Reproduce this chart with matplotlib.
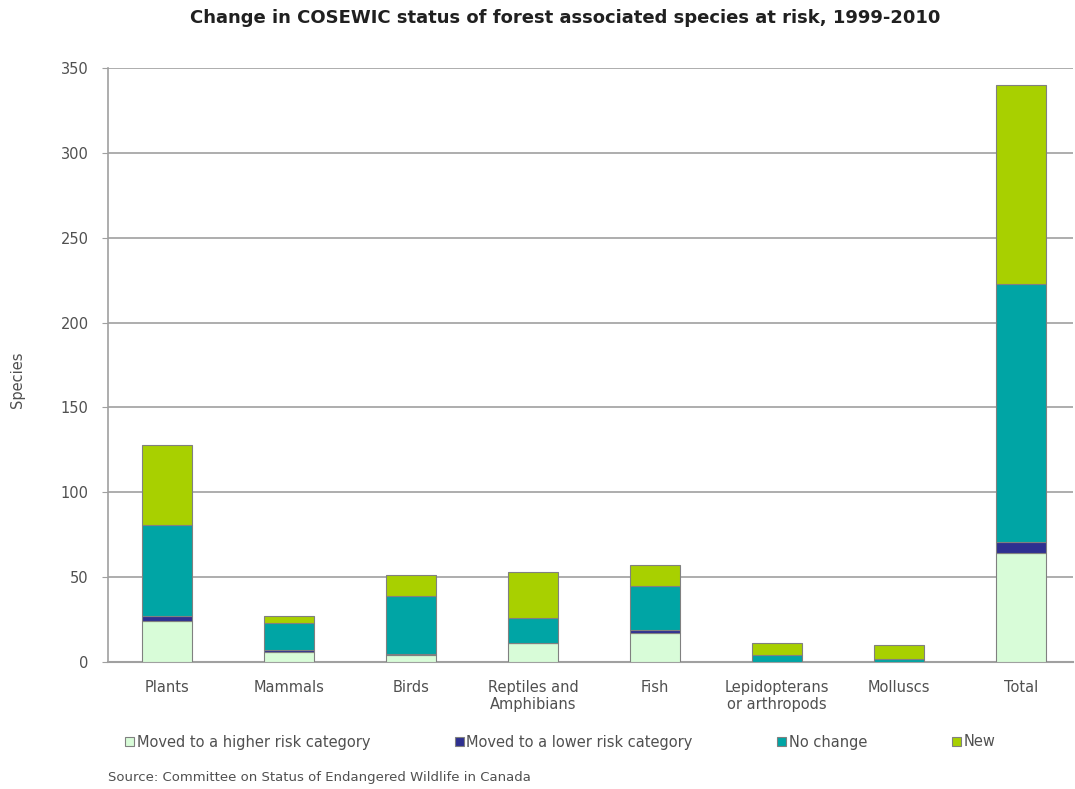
import matplotlib
matplotlib.use("Agg")
import matplotlib.pyplot as plt
import numpy as np

categories = ["Plants", "Mammals", "Birds", "Reptiles and\nAmphibians", "Fish",
              "Lepidopterans\nor arthropods", "Molluscs", "Total"]
higher = [24, 6, 4, 11, 17, 0, 0, 64]
lower = [3, 1, 1, 0, 2, 0, 0, 7]
no_change = [54, 16, 34, 15, 26, 4, 2, 152]
new = [47, 4, 12, 27, 12, 7, 8, 117]
series_names = ["Moved to a higher risk category", "Moved to a lower risk category",
                "No change", "New"]
colors = ["#d8fcd8", "#2e3090", "#00a5a5", "#a8d000"]
yticks = [0, 50, 100, 150, 200, 250, 300, 350]

fig = plt.figure(figsize=(10.75, 7.89), dpi=100)
ax = fig.add_axes([108/1075, 127/789, 965/1075, 594/789])

x = np.arange(len(categories))
bottom = np.zeros(len(categories))
handles = []
for vals, name, c in zip([higher, lower, no_change, new], series_names, colors):
    h = ax.bar(x, vals, width=0.41, bottom=bottom, color=c, edgecolor="#808080",
               linewidth=0.8, label=name, zorder=3)
    handles.append(h)
    bottom += np.array(vals)

ax.set_xlim(-0.484, 7.426)
ax.set_ylim(0, 350)
ax.set_yticks(yticks)
ax.yaxis.grid(True, color="#a0a0a0", linewidth=1.2, zorder=0)
ax.set_xticks(x)
ax.set_xticklabels(categories, fontsize=10.5, color="#505050", linespacing=1.15)
ax.tick_params(axis="x", length=0, pad=13)
ax.tick_params(axis="y", labelsize=10.5, labelcolor="#505050", color="#a0a0a0", length=4, pad=10)
for s in ["top", "right"]:
    ax.spines[s].set_visible(False)
ax.spines["left"].set_color("#a0a0a0")
ax.spines["bottom"].set_color("#a0a0a0")
ax.spines["left"].set_linewidth(1.2)
ax.spines["bottom"].set_linewidth(1.5)

fig.text(18/1075, 1 - 380/789, "Species", rotation=90, fontsize=10.5, color="#505050",
         ha="center", va="center")
fig.text(565/1075, 1 - 18/789, "Change in COSEWIC status of forest associated species at risk, 1999-2010",
         fontsize=13, fontweight="bold", ha="center", va="center", color="#202020")

leg = fig.legend(handles=handles, labels=series_names, loc="center left",
                 bbox_to_anchor=(125/1075, 1 - 742/789), ncol=4, frameon=False,
                 fontsize=10.5, handlelength=0.6, handleheight=0.6, handletextpad=0.2,
                 columnspacing=5.8, borderaxespad=0, borderpad=0)
for t in leg.get_texts():
    t.set_color("#505050")

fig.text(108/1075, 1 - 778/789, "Source: Committee on Status of Endangered Wildlife in Canada",
         fontsize=9.5, color="#505050", ha="left", va="center")

fig.savefig("out.png", dpi=100)
